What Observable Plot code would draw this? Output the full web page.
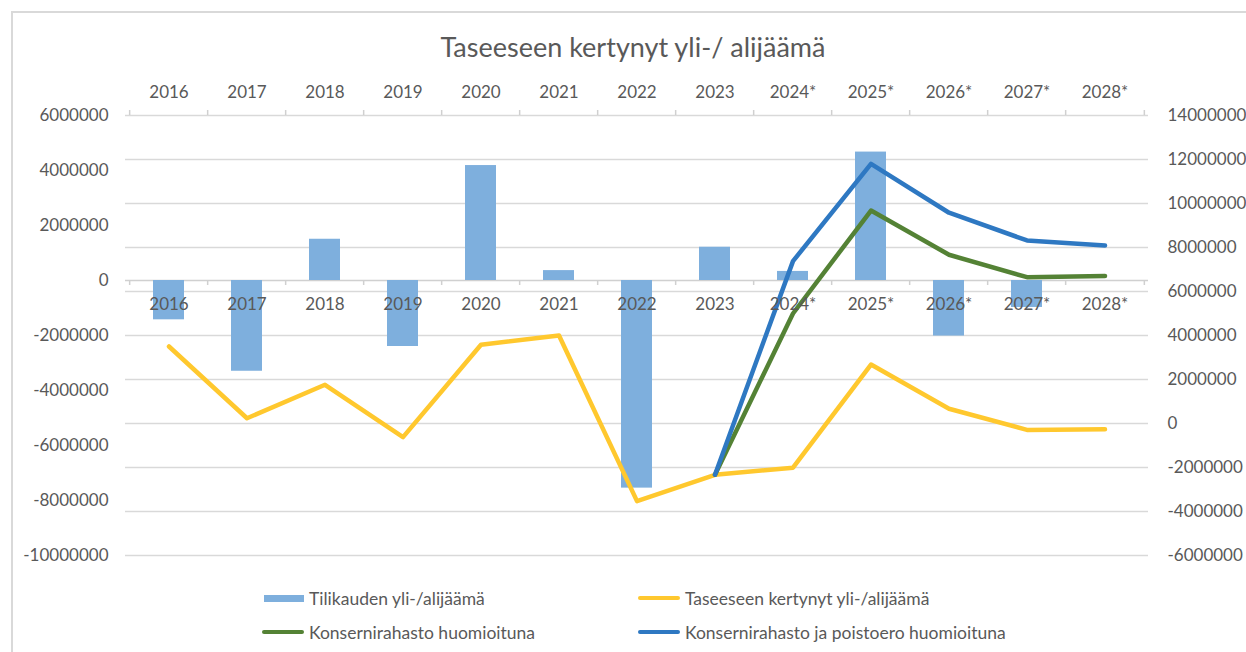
<!DOCTYPE html>
<html>
<head>
<meta charset="utf-8">
<script src="https://cdn.jsdelivr.net/npm/d3@7"></script>
<script src="https://cdn.jsdelivr.net/npm/@observablehq/plot@0.6"></script>
<style>
  html, body { margin: 0; padding: 0; background: #fff; }
  body { position: relative; width: 1246px; height: 652px; overflow: hidden; font-family: Lato, "Open Sans", sans-serif; color: #595959; }
  #frame { position: absolute; left: 11px; top: 11px; width: 1400px; height: 800px; border: 2px solid #d9d9d9; box-sizing: border-box; pointer-events: none; }
  #title { height: 70px; box-sizing: border-box; padding: 31px 0 7px 20px; line-height: 32px; font-size: 27px; text-align: center; width: 1246px; }
  #chart svg { display: block; }
  #legend { display: grid; grid-template-columns: 376px 376px; padding: 6px 0 0 262px; font-size: 17.5px; }
  .item { height: 34px; display: flex; align-items: center; }
  .sw { display: inline-block; width: 42px; margin-right: 5px; }
</style>
</head>
<body>
<div id="frame"></div>
<div id="title">Taseeseen kertynyt yli-/ alijäämä</div>
<div id="chart"></div>
<div id="legend"></div>
<script>
// Categories
const years = ["2016", "2017", "2018", "2019", "2020", "2021", "2022", "2023", "2024*", "2025*", "2026*", "2027*", "2028*"];
// Tilikauden yli-/alijäämä (left axis)
const tilikausi = [-1430000, -3300000, 1500000, -2400000, 4180000, 360000, -7550000, 1210000, 330000, 4670000, -2020000, -980000, 0];
// Taseeseen kertynyt yli-/alijäämä (right axis)
const taseeseen = [3500000, 240000, 1760000, -620000, 3580000, 4000000, -3530000, -2330000, -2010000, 2680000, 670000, -290000, -260000];
// Konsernirahasto huomioituna (right axis)
const konserni = [null, null, null, null, null, null, null, -2330000, 5000000, 9680000, 7670000, 6650000, 6710000];
// Konsernirahasto ja poistoero huomioituna (right axis)
const poistoero = [null, null, null, null, null, null, null, -2330000, 7380000, 11800000, 9580000, 8320000, 8090000];
// Axis ticks
const leftTicks = [6000000, 4000000, 2000000, 0, -2000000, -4000000, -6000000, -8000000, -10000000];
const rightTicks = [14000000, 12000000, 10000000, 8000000, 6000000, 4000000, 2000000, 0, -2000000, -4000000, -6000000];

const leftDomain = [-10000000, 6000000];
const rightDomain = [-6000000, 14000000];
const toLeft = v => leftDomain[0] + (v - rightDomain[0]) * (leftDomain[1] - leftDomain[0]) / (rightDomain[1] - rightDomain[0]);
const fromLeft = v => rightDomain[0] + (v - leftDomain[0]) * (rightDomain[1] - rightDomain[0]) / (leftDomain[1] - leftDomain[0]);

const colors = {bar: "#7eafdd", yellow: "#ffc82e", green: "#548235", blue: "#2e78c2"};

const bars = years.map((year, i) => ({year, value: tilikausi[i]}));
const mkLine = arr => years.map((year, i) => ({year, value: arr[i]})).filter(d => d.value != null);
const lineT = mkLine(taseeseen);
const lineK = mkLine(konserni);
const lineP = mkLine(poistoero);

const width = 1246, height = 505, marginLeft = 125, marginRight = 98, marginTop = 45, marginBottom = 20;
const step = (width - marginLeft - marginRight) / years.length;
const grey = "#595959";
const fs = 17;

const chart = Plot.plot({
  width, height, marginLeft, marginRight, marginTop, marginBottom,
  style: {fontFamily: "Lato, 'Open Sans', sans-serif", fontSize: fs + "px", color: grey, background: "white"},
  x: {type: "band", domain: years, paddingInner: 0.6, paddingOuter: 0.3, label: null},
  y: {domain: leftDomain, label: null},
  marks: [
    Plot.ruleY(rightTicks, {y: d => toLeft(d), stroke: "#d9d9d9", strokeWidth: 1.5}),
    Plot.ruleY([0], {stroke: "#d0d0d0", strokeWidth: 1.5}),
    // category boundary tick marks on the top axis and on the zero axis
    Plot.ruleX(years, {x: d => d, dx: -step / 2, y1: leftDomain[1], y2: leftDomain[1], insetTop: -5, stroke: "#d0d0d0", strokeWidth: 1.5}),
    Plot.ruleX(years.slice(-1), {x: d => d, dx: step / 2, y1: leftDomain[1], y2: leftDomain[1], insetTop: -5, stroke: "#d0d0d0", strokeWidth: 1.5}),
    Plot.ruleX(years, {x: d => d, dx: -step / 2, y1: 0, y2: 0, insetBottom: -5, stroke: "#d0d0d0", strokeWidth: 1.5}),
    Plot.ruleX(years.slice(-1), {x: d => d, dx: step / 2, y1: 0, y2: 0, insetBottom: -5, stroke: "#d0d0d0", strokeWidth: 1.5}),
    Plot.barY(bars, {x: "year", y: "value", fill: colors.bar}),
    Plot.line(lineT, {x: "year", y: d => toLeft(d.value), stroke: colors.yellow, strokeWidth: 4.5, strokeLinecap: "round", strokeLinejoin: "round"}),
    Plot.line(lineK, {x: "year", y: d => toLeft(d.value), stroke: colors.green, strokeWidth: 4.5, strokeLinecap: "round", strokeLinejoin: "round"}),
    Plot.line(lineP, {x: "year", y: d => toLeft(d.value), stroke: colors.blue, strokeWidth: 4.5, strokeLinecap: "round", strokeLinejoin: "round"}),
    Plot.axisX({anchor: "top", tickSize: 0, tickPadding: 18, fontSize: fs, fill: grey, label: null}),
    Plot.text(years, {x: d => d, y: 0, dy: 24, text: d => d, fontSize: fs, fill: grey}),
    Plot.axisY(leftTicks, {anchor: "left", tickSize: 0, tickPadding: 17, fontSize: fs, fill: grey, tickFormat: d => String(d), label: null}),
    Plot.axisY(rightTicks.map(toLeft), {anchor: "right", tickSize: 0, tickPadding: 19, fontSize: fs, fill: grey, tickFormat: d => String(Math.round(fromLeft(d))), label: null})
  ]
});
document.getElementById("chart").appendChild(chart);

// Legend
const legendItems = [
  {label: "Tilikauden yli-/alijäämä", color: colors.bar, type: "bar"},
  {label: "Taseeseen kertynyt yli-/alijäämä", color: colors.yellow, type: "line"},
  {label: "Konsernirahasto huomioituna", color: colors.green, type: "line"},
  {label: "Konsernirahasto ja poistoero huomioituna", color: colors.blue, type: "line"}
];
const legend = document.getElementById("legend");
for (const it of legendItems) {
  const div = document.createElement("div");
  div.className = "item";
  const sw = document.createElement("span");
  sw.className = "sw";
  if (it.type === "bar") {
    sw.style.height = "7px"; sw.style.width = "40px"; sw.style.marginLeft = "2px";
  } else {
    sw.style.height = "4.5px"; sw.style.borderRadius = "2px";
  }
  sw.style.background = it.color;
  const tx = document.createElement("span");
  tx.textContent = it.label;
  div.appendChild(sw); div.appendChild(tx);
  legend.appendChild(div);
}
</script>
</body>
</html>
